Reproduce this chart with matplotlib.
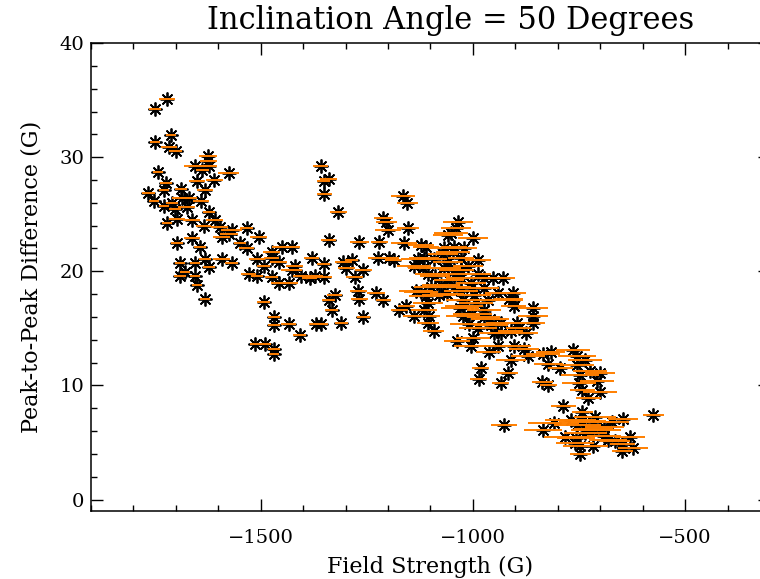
import numpy as np
import matplotlib.pyplot as plt
from matplotlib.ticker import MultipleLocator

# --- Data (field strength in G, peak-to-peak in G, x error in G) ---
field = [
    -1721, -1749, -1711, -1749, -1716, -1700, -1624, -1624, -1655, -1638,
    -1622, -1575, -1742, -1650, -1610, -1723, -1688, -1631, -1765, -1728,
    -1751, -1728, -1709, -1685, -1669, -1641, -1702, -1674, -1622, -1359,
    -1340, -1350, -1317, -1352,
    -1721, -1697, -1662, -1634, -1608, -1596, -1568, -1533, -1505, -1697,
    -1662, -1643, -1592, -1575, -1549, -1533, -1474, -1451, -1427, -1380,
    -1690, -1655, -1631, -1622, -1592, -1568, -1509, -1493, -1474, -1458,
    -1420, -1690, -1655, -1678, -1528, -1509, -1474, -1458, -1434, -1427,
    -1404, -1385, -1373, -1650, -1631, -1493, -1469, -1434, -1469, -1408,
    -1369, -1514, -1491, -1469, -1469,
    -1211, -1204, -1200, -1153, -1035, -1040, -1052, -1059, -1000, -1340,
    -1268, -1221, -1162, -1122, -1110, -1068, -1045, -1021, -1047, -1071,
    -1028, -1223, -1197, -1186, -1129, -1115, -1092, -1059, -988, -1352,
    -1305, -1286, -1298, -1258, -1139, -1117, -1106, -1068, -1045, -1028,
    -1012, -988, -974, -953, -930, -1350, -1279, -1056, -1028, -1005,
    -1270, -1228, -1134, -1122, -1099, -1075, -1045, -1028, -1005, -974,
    -941, -1326, -1340, -1268, -1211, -1080, -998, -965, -916, -1024,
    -1333, -1174, -1157, -1106, -1115, -1021, -993, -974, -1139, -1103,
    -1024, -1258, -1310, -1357, -1106, -1092, -1010, -988, -958, -934,
    -1000, -934, -951, -1164, -1155,
    -906, -906, -904, -859, -859, -859, -895, -892, -876, -911,
    -904, -911, -918, -934, -834, -817, -822, -794, -836, -822,
    -765, -754, -754, -735, -700, -723, -747, -707, -751, -742,
    -728, -700, -787, -742, -927, -834, -810, -754, -718, -672,
    -646, -575, -782, -758, -730, -716, -700, -681, -629, -716,
    -747, -648, -622, -648, -747,
    -981, -986, -963, -941, -1005, -1038,
    -1042, -1060, -1030, -1090, -1110, -1001, -975, -960, -880, -870,
    -770, -742, -712, -690, -735, -760, -690, -665,
]
p2p = [
    35.1, 34.2, 31.9, 31.3, 30.9, 30.5, 30.1, 29.7, 29.2, 28.9,
    29.2, 28.6, 28.7, 27.9, 28.0, 27.7, 27.2, 27.1, 26.9, 27.1,
    26.2, 25.7, 26.0, 26.4, 26.4, 26.2, 25.5, 25.6, 25.2, 29.2,
    28.1, 26.8, 25.2, 27.9,
    24.2, 24.6, 24.5, 24.0, 24.5, 23.9, 23.6, 23.8, 23.0, 22.5,
    22.9, 22.1, 23.0, 23.3, 22.5, 22.0, 21.7, 22.1, 22.1, 21.2,
    20.7, 20.7, 21.1, 20.4, 21.1, 20.7, 21.1, 20.5, 21.2, 20.8,
    20.5, 19.6, 19.6, 19.9, 19.8, 19.6, 19.5, 19.0, 19.0, 20.1,
    19.6, 19.4, 19.6, 18.8, 17.6, 17.3, 16.0, 15.4, 15.3, 14.4,
    15.4, 13.6, 13.6, 13.2, 12.8,
    24.7, 24.3, 23.6, 23.8, 24.3, 23.8, 23.4, 23.2, 22.9, 22.7,
    22.6, 22.6, 22.5, 22.3, 22.1, 22.0, 22.1, 22.0, 21.7, 21.5,
    21.2, 21.2, 21.2, 21.0, 21.1, 21.2, 21.1, 20.8, 21.0, 20.6,
    20.8, 21.0, 20.3, 20.1, 20.5, 20.3, 19.8, 20.3, 20.1, 20.1,
    20.5, 19.8, 19.4, 19.4, 19.4, 19.5, 19.5, 19.2, 19.4, 19.0,
    18.3, 18.1, 18.3, 18.2, 18.6, 18.8, 18.6, 18.3, 18.5, 18.5,
    18.1, 17.9, 17.5, 17.6, 17.5, 17.9, 17.9, 17.5, 17.6, 17.5,
    16.6, 16.6, 17.0, 17.2, 16.6, 17.0, 17.2, 16.6, 16.1, 16.1,
    16.1, 16.0, 15.5, 15.4, 15.5, 14.8, 15.4, 15.0, 15.3, 14.6,
    14.2, 15.5, 14.6, 26.6, 26.0,
    18.1, 17.5, 17.0, 16.8, 16.1, 15.5, 15.5, 15.0, 14.6, 14.8,
    13.5, 12.2, 11.1, 10.2, 12.8, 12.9, 11.9, 11.5, 10.3, 10.0,
    13.1, 12.6, 11.8, 12.2, 11.1, 11.3, 10.9, 10.4, 10.2, 9.6,
    8.9, 9.4, 8.2, 7.7, 6.5, 6.1, 6.7, 6.5, 6.8, 6.8,
    7.1, 7.4, 5.5, 5.4, 6.1, 6.2, 6.1, 5.2, 5.5, 4.7,
    4.7, 4.9, 4.5, 4.3, 4.0,
    11.5, 10.6, 12.9, 13.5, 13.5, 13.9,
    19.8, 18.0, 16.8, 19.6, 17.8, 16.3, 16.0, 15.8, 13.2, 12.6,
    7.0, 6.9, 7.2, 6.4, 5.8, 5.0, 5.6, 5.1,
]
field_err = [
    18, 15, 12, 12, 18, 15, 22, 20, 25, 15,
    18, 25, 12, 18, 20, 15, 15, 18, 15, 12,
    12, 12, 15, 25, 20, 18, 15, 20, 15, 18,
    20, 18, 20, 15,
    12, 18, 20, 18, 20, 20, 25, 15, 20, 15,
    18, 15, 20, 22, 15, 18, 20, 22, 20, 18,
    12, 12, 15, 15, 20, 15, 18, 15, 18, 20,
    20, 15, 12, 12, 18, 15, 15, 18, 22, 25,
    20, 18, 20, 12, 12, 15, 15, 18, 15, 15,
    18, 12, 15, 15, 12,
    22, 25, 30, 25, 35, 35, 40, 35, 35, 18,
    22, 20, 30, 30, 30, 35, 30, 30, 40, 35,
    30, 25, 22, 20, 40, 35, 30, 35, 30, 15,
    20, 15, 20, 20, 40, 35, 30, 40, 35, 30,
    35, 30, 35, 30, 30, 18, 20, 35, 35, 35,
    20, 22, 40, 40, 40, 45, 40, 40, 35, 35,
    30, 18, 15, 20, 18, 40, 40, 35, 35, 40,
    15, 20, 20, 35, 30, 45, 40, 40, 25, 25,
    40, 15, 15, 15, 25, 25, 45, 45, 40, 35,
    40, 35, 35, 28, 25,
    30, 25, 30, 35, 35, 30, 35, 30, 30, 30,
    40, 35, 25, 20, 40, 35, 35, 30, 25, 20,
    40, 45, 40, 40, 35, 40, 45, 40, 40, 30,
    30, 40, 30, 25, 30, 45, 60, 55, 50, 40,
    35, 25, 50, 45, 40, 45, 50, 45, 35, 35,
    40, 30, 35, 25, 25,
    20, 20, 30, 35, 40, 30,
    45, 40, 45, 35, 40, 45, 40, 45, 35, 40,
    60, 55, 50, 45, 50, 45, 40, 35,
]

plt.rcParams['font.family'] = 'DejaVu Serif'

fig = plt.figure(figsize=(7.6, 5.79), dpi=100)
ax = fig.add_axes([0.1197, 0.1174, 0.8934, 0.8083])

# black asterisks, orange horizontal error bars on top
ax.plot(field, p2p, linestyle='none', marker=(8, 2, 0), ms=10, mew=1.3,
        color='black', zorder=2)
ax.errorbar(field, p2p, xerr=field_err, fmt='none', ecolor='#ff7f00',
            elinewidth=1.4, capsize=0, zorder=3)

ax.set_xlim(-1900, -300)
ax.set_ylim(-1, 40)
ax.xaxis.set_major_locator(MultipleLocator(500))
ax.xaxis.set_minor_locator(MultipleLocator(100))
ax.yaxis.set_major_locator(MultipleLocator(10))
ax.yaxis.set_minor_locator(MultipleLocator(2))
ax.tick_params(which='both', direction='in', top=True, right=True, width=1)
ax.tick_params(which='major', length=8.5, labelsize=14)
ax.tick_params(which='minor', length=4.5)
ax.tick_params(axis='x', pad=13)
ax.tick_params(axis='y', pad=5)
for s in ax.spines.values():
    s.set_linewidth(1.1)

ax.set_xlabel("Field Strength (G)", fontsize=16, labelpad=6)
ax.set_ylabel("Peak-to-Peak Difference (G)", fontsize=16, labelpad=12)
ax.set_title("Inclination Angle = 50 Degrees", fontsize=22, pad=10, x=0.529)

plt.savefig("out.png", dpi=100)
